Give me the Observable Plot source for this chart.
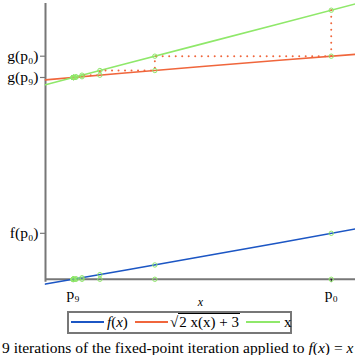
<!DOCTYPE html>
<html>
<head>
<meta charset="utf-8">
<script src="https://cdn.jsdelivr.net/npm/d3@7"></script>
<script src="https://cdn.jsdelivr.net/npm/@observablehq/plot@0.6"></script>
<style>
  html, body { margin: 0; padding: 0; background: #fff; overflow: hidden; }
  #wrap { position: relative; width: 355px; height: 355px; overflow: hidden; font-family: "Liberation Serif", serif; color: #000; }
  #legend { position: absolute; left: 67px; top: 311px; width: 225px; height: 23px; box-sizing: border-box; border: 2px solid #777; background: #fff; }
  #legend .ln { position: absolute; top: 8px; height: 2px; }
  #legend .tx { position: absolute; top: 0px; font-size: 15px; line-height: 19px; white-space: nowrap; }
  .ov { border-top: 1px solid #000; padding: 0 1px; }
  #caption { position: absolute; left: 2px; top: 339px; font-size: 15.5px; white-space: nowrap; }
</style>
</head>
<body>
<div id="wrap">
  <div id="chart"></div>
  <div id="legend"></div>
  <div id="caption">9 iterations of the fixed-point iteration applied to <i>f</i>(<i>x</i>) = <i>x</i> − √(2<i>x</i> + 3)</div>
</div>
<script>
// iterates p_n, g(p_n), f(p_n)
const P = [4, 3.31662, 3.10375, 3.03439, 3.01145, 3.00381, 3.00127, 3.00042, 3.00014, 3.00005];
const G = [3.31662, 3.10375, 3.03439, 3.01145, 3.00381, 3.00127, 3.00042, 3.00014, 3.00005, 3.00002];
const F = [0.68338, 0.21287, 0.06936, 0.02294, 0.00764, 0.00254, 0.00085, 0.00028, 0.00009, 0.00003];
// curve samples
const curveX = [2.893, 3.2, 3.5, 3.8, 4.094];
const curveG = [2.9641, 3.06594, 3.16228, 3.25576, 3.34485];
const curveF = [-0.0711, 0.13406, 0.33772, 0.54424, 0.74915];
// ticks
const yTickValues = [3.00002, 3.31662, 0.68338];
const yTickLabels = ["g(p₉)", "g(p₀)", "f(p₀)"];
const xTickValues = [3.00005, 4];
const xTickLabels = ["p₉", "p₀"];

const BLUE = "#1c56c4", ORANGE = "#f0663c", GREEN = "#8fe86a", GRAY = "#777";
const xMin = 2.893, xMax = 4.094, yMin = -0.07, yMax = 4.1;

const curve = curveX.map((x, i) => ({x, g: curveG[i], f: curveF[i]}));
const cobweb = [];
P.forEach((p, i) => { cobweb.push({x: p, y: p}); cobweb.push({x: p, y: G[i]}); });
const dots = [];
P.forEach((p, i) => {
  dots.push({x: p, y: p}, {x: p, y: G[i]}, {x: p, y: F[i]}, {x: p, y: 0});
});
const yTicks = yTickValues.map((v, i) => ({v, label: yTickLabels[i]}));
const xTicks = xTickValues.map((v, i) => ({v, label: xTickLabels[i]}));

const chart = Plot.plot({
  width: 355, height: 310,
  marginLeft: 45, marginRight: 0, marginTop: 3, marginBottom: 26.5,
  x: {domain: [xMin, xMax], axis: null},
  y: {domain: [yMin, yMax], axis: null},
  style: {fontFamily: "'Liberation Serif', serif", background: "#fff"},
  marks: [
    // axes
    Plot.ruleX([xMin], {y1: -0.045, y2: yMax, stroke: GRAY, strokeWidth: 2}),
    Plot.ruleY([0], {x1: xMin, x2: xMax, stroke: GRAY, strokeWidth: 2}),
    // y ticks
    Plot.ruleY(yTicks, {y: "v", x1: xMin - 5 / 258.1, x2: xMin, stroke: GRAY, strokeWidth: 1.2}),
    Plot.text(yTicks, {y: "v", x: xMin, text: "label", dx: -7, textAnchor: "end", fontSize: 15.5, fill: "black"}),
    // x ticks
    Plot.ruleX(xTicks, {x: "v", y1: 0, y2: -0.05, stroke: "black", strokeWidth: 1}),
    Plot.text(xTicks, {x: "v", y: yMin, text: "label", dy: 10, fontSize: 15.5, fill: "black"}),
    Plot.text(["x"], {frameAnchor: "bottom", dy: 21.5, text: d => d, fontStyle: "italic", fontSize: 12, fill: "black"}),
    // curves
    Plot.line(curve, {x: "x", y: "f", stroke: BLUE, strokeWidth: 1.6}),
    Plot.line(curve, {x: "x", y: "g", stroke: ORANGE, strokeWidth: 1.6}),
    Plot.line(curve, {x: "x", y: "x", stroke: GREEN, strokeWidth: 1.6}),
    // cobweb
    Plot.line(cobweb, {x: "x", y: "y", stroke: ORANGE, strokeWidth: 2, strokeDasharray: "0,6.5", strokeLinecap: "round"}),
    // iterate markers
    Plot.dot(dots, {x: "x", y: "y", r: 2.2, stroke: GREEN, fill: "none", strokeWidth: 1})
  ]
});
document.getElementById("chart").appendChild(chart);

// legend
const legend = document.getElementById("legend");
const items = [
  {type: "ln", left: 2, width: 33, color: BLUE},
  {type: "tx", left: 38, html: "<i>f</i>(<i>x</i>)"},
  {type: "ln", left: 66, width: 33, color: ORANGE},
  {type: "tx", left: 101, html: "√<span class='ov'>2 x(x) + 3</span>"},
  {type: "ln", left: 177, width: 34, color: GREEN},
  {type: "tx", left: 215, html: "x"}
];
items.forEach(it => {
  const el = document.createElement(it.type === "ln" ? "div" : "span");
  el.className = it.type;
  el.style.left = it.left + "px";
  if (it.type === "ln") { el.style.width = it.width + "px"; el.style.background = it.color; }
  else el.innerHTML = it.html;
  legend.appendChild(el);
});
</script>
</body>
</html>
